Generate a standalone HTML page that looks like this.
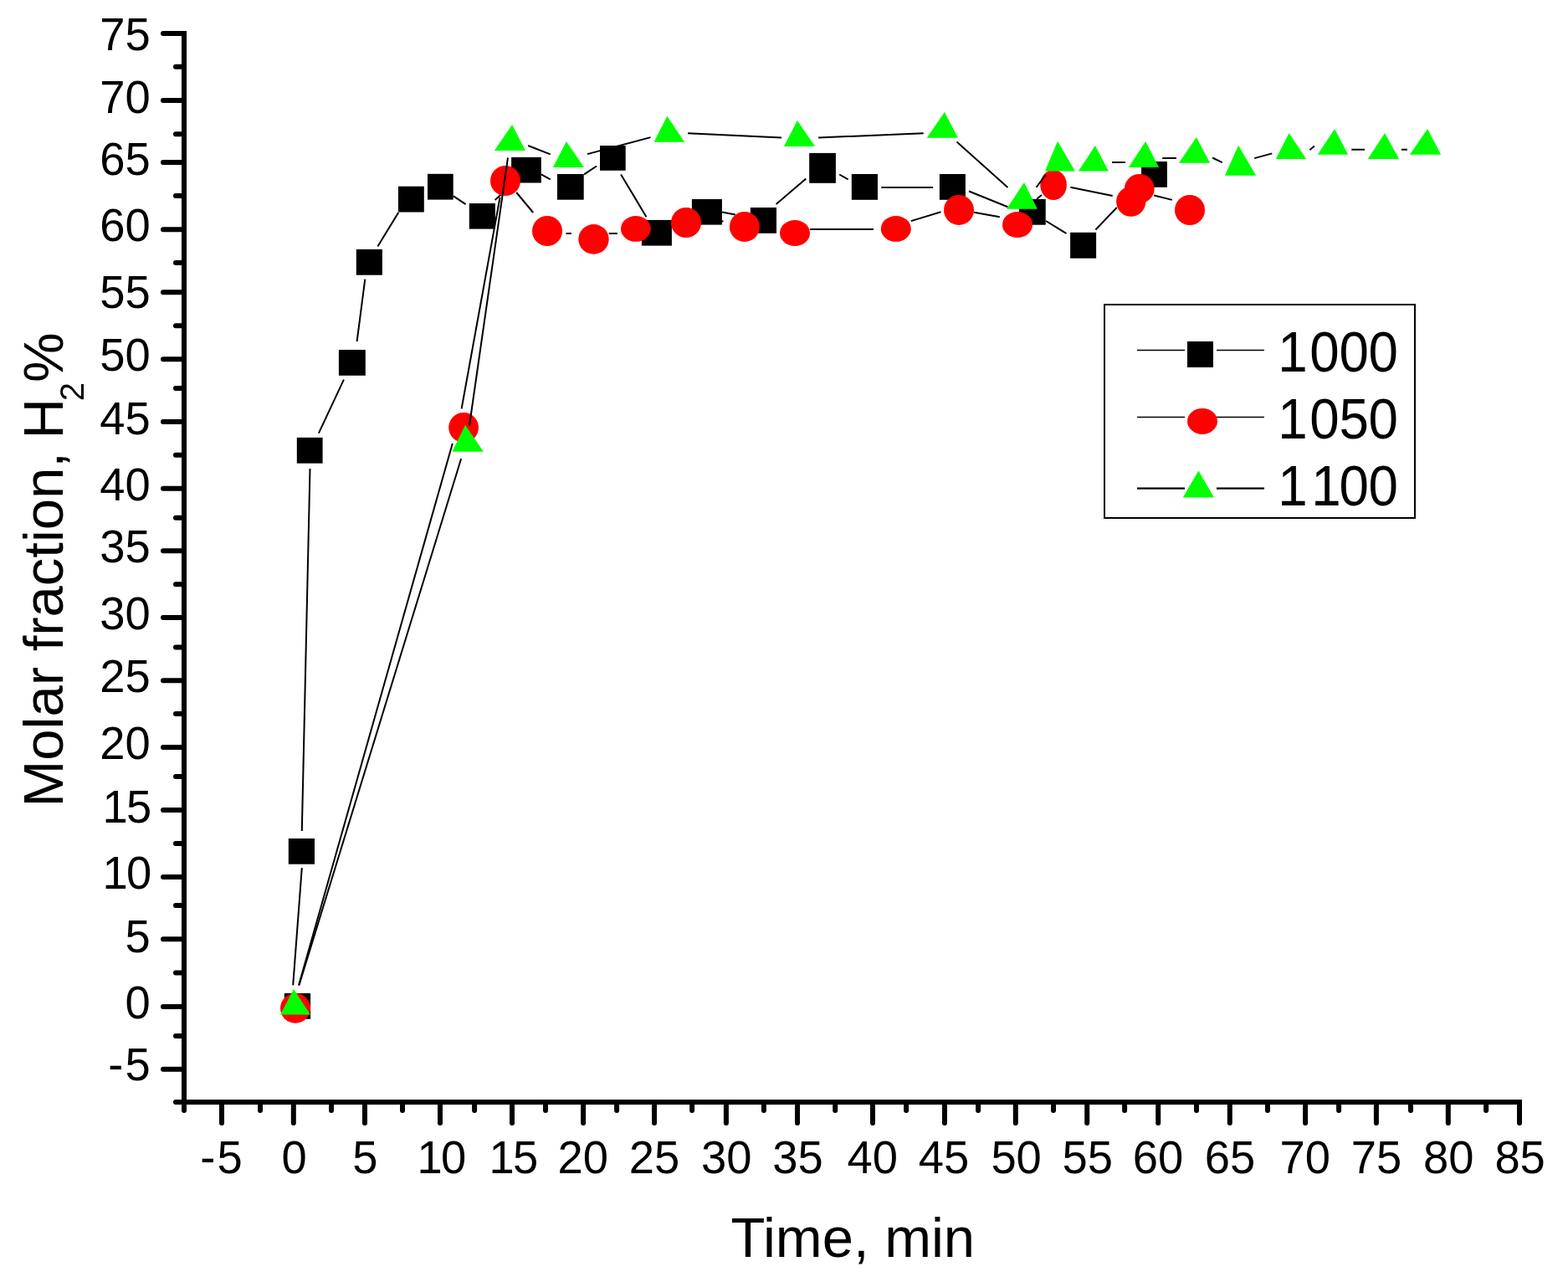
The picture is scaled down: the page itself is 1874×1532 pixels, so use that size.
<!DOCTYPE html>
<html><head><meta charset="utf-8"><title>Molar fraction H2 vs time</title>
<style>html,body{margin:0;padding:0;background:#fff;}body{width:1874px;height:1532px;overflow:hidden;}svg{display:block;}text{font-family:"Liberation Sans", Arial, sans-serif;fill:#000;}</style></head><body>
<svg width="1874" height="1532" viewBox="0 0 1874 1532">
<rect x="0" y="0" width="1874" height="1532" fill="#fff"/>
<path d="M350.2 1177.4L360.8 1037.1M360.8 993L370.5 560M380.9 517.7L410.9 453.7M426.6 408L436.3 333.6M451.4 294.5L476.2 254M542 234.4L556.6 244.1M591.6 238.9L613.7 219.3M646.8 208.4L657.7 214.4M698.1 208.4L713 198.5M742.1 208.4L772.5 259.3M805.7 269.6L824.1 261.9M863.1 253.5L878.8 256.5M927.6 244L963.3 213.6M1003.2 208.5L1013.6 214.4M1053.3 224L1114.9 224M1158 228.5L1204.4 247.3M1250 264L1274.5 279M1309.4 274.5L1334.8 248" stroke="#000" stroke-width="2" fill="none"/>
<rect x="339.9" y="1186.9" width="31.2" height="30.8" fill="#000"/>
<rect x="344.8" y="1002" width="31.2" height="30.7" fill="#000"/>
<rect x="354.8" y="522.9" width="30.8" height="30.8" fill="#000"/>
<rect x="404.9" y="418" width="31.9" height="30.8" fill="#000"/>
<rect x="425.8" y="297.9" width="31.1" height="30.8" fill="#000"/>
<rect x="476" y="222.7" width="30.8" height="30.8" fill="#000"/>
<rect x="511" y="207.8" width="30.7" height="30.8" fill="#000"/>
<rect x="560.8" y="243" width="31.1" height="30.6" fill="#000"/>
<rect x="611.1" y="187.9" width="35.7" height="30.6" fill="#000"/>
<rect x="666" y="208" width="31.7" height="30.7" fill="#000"/>
<rect x="717" y="174" width="30.7" height="29.8" fill="#000"/>
<rect x="766.9" y="262.9" width="36" height="30.7" fill="#000"/>
<rect x="826.9" y="238" width="36" height="30.6" fill="#000"/>
<rect x="896.9" y="248" width="31.1" height="30.8" fill="#000"/>
<rect x="967.2" y="182.9" width="31.7" height="35.9" fill="#000"/>
<rect x="1017.8" y="208" width="31.2" height="30.8" fill="#000"/>
<rect x="1122.9" y="208" width="31" height="30.8" fill="#000"/>
<rect x="1218" y="238" width="31.7" height="30.7" fill="#000"/>
<rect x="1279.1" y="277.8" width="31" height="30.9" fill="#000"/>
<rect x="1364.1" y="193" width="30.8" height="30.8" fill="#000"/>
<path d="M357 1177.4L540.8 530M551.6 488.5L597.5 236M617.2 230L637.2 254M676.5 278.9L682.9 278.9M727.7 278.9L737.8 278.9M782.3 267.1L797.6 265.9M840 264L864.5 264.5M912.3 270.8L927.6 272.1M968 274L1044 274M1088.8 264.1L1124.5 253.3M1164 253.7L1194.8 259.3M1239 237.7L1245 233M1279.3 223.7L1329.7 234.1M1379.2 233.5L1400.8 238.9" stroke="#000" stroke-width="2" fill="none"/>
<ellipse cx="353" cy="1204.8" rx="18" ry="17.9" fill="#f00"/>
<ellipse cx="554.1" cy="510.8" rx="17.9" ry="17.9" fill="#f00"/>
<ellipse cx="604" cy="216" rx="18" ry="18" fill="#f00"/>
<ellipse cx="654" cy="276" rx="18" ry="18" fill="#f00"/>
<ellipse cx="709.5" cy="285.9" rx="18.2" ry="17.8" fill="#f00"/>
<ellipse cx="759.9" cy="273.4" rx="17.9" ry="15.4" fill="#f00"/>
<ellipse cx="820" cy="266" rx="18" ry="18" fill="#f00"/>
<ellipse cx="889.9" cy="270.9" rx="18" ry="18" fill="#f00"/>
<ellipse cx="950" cy="278.5" rx="18" ry="15.5" fill="#f00"/>
<ellipse cx="1070.8" cy="273.4" rx="18" ry="15.4" fill="#f00"/>
<ellipse cx="1146" cy="250.9" rx="18" ry="18" fill="#f00"/>
<ellipse cx="1216" cy="268.5" rx="18" ry="15.5" fill="#f00"/>
<ellipse cx="1259.1" cy="221" rx="15.8" ry="18" fill="#f00"/>
<ellipse cx="1351.7" cy="240.9" rx="17.6" ry="17.9" fill="#f00"/>
<ellipse cx="1361.8" cy="225.5" rx="17.9" ry="17.5" fill="#f00"/>
<ellipse cx="1422" cy="251" rx="18" ry="18" fill="#f00"/>
<path d="M357.4 1177.4L551.1 548.3M561 508.5L607 188.5M631.1 174L657.7 184.4M702 184.1L777.6 164.1M822.1 159.3L934 164.5M978.1 164.5L1103.7 159.2M1143.5 169.6L1204.4 224M1238.5 224L1249.7 208.8M1329 194L1345 194M1389.2 188.9L1405.9 188.9M1449.1 188.5L1460.7 194.2M1499.2 189.1L1520.3 183.4M1565.3 179.3L1570.9 174.4M1615.3 178.8L1631 178.8M1674.9 178.8L1681.9 178.8" stroke="#000" stroke-width="2" fill="none"/>
<polygon points="351,1182 371,1212.5 335,1212.5" fill="#0f0"/>
<polygon points="556,507.9 577.9,539.8 540.4,539.8" fill="#0f0"/>
<polygon points="612.1,148.9 627.9,179.9 590.8,179.9" fill="#0f0"/>
<polygon points="676.9,168.9 698,200 660.9,200" fill="#0f0"/>
<polygon points="797.3,138.8 818.1,169.7 781.6,169.7" fill="#0f0"/>
<polygon points="952.9,144 974.1,174.9 936.9,174.9" fill="#0f0"/>
<polygon points="1128.9,133.9 1144.9,164.8 1107.7,164.8" fill="#0f0"/>
<polygon points="1224,218 1239.8,249.7 1203,249.7" fill="#0f0"/>
<polygon points="1264,168.8 1284.9,204.5 1248.9,204.5" fill="#0f0"/>
<polygon points="1308.9,173.9 1324.9,204.5 1288.9,204.5" fill="#0f0"/>
<polygon points="1369.1,169 1385.1,199.9 1348.8,199.9" fill="#0f0"/>
<polygon points="1429.9,163.9 1446.1,194.8 1408.9,194.8" fill="#0f0"/>
<polygon points="1480.1,173.8 1501.1,209.7 1463.9,209.7" fill="#0f0"/>
<polygon points="1540.6,158.9 1561.2,189.9 1524.8,189.9" fill="#0f0"/>
<polygon points="1595.1,153.9 1611.1,184.8 1574.8,184.8" fill="#0f0"/>
<polygon points="1655.1,158.9 1672.1,189.9 1634.7,189.9" fill="#0f0"/>
<polygon points="1706.1,153.9 1722.1,184.8 1684.9,184.8" fill="#0f0"/>
<g fill="#000">
<rect x="217" y="37" width="6" height="1283"/>
<rect x="217" y="1314" width="1602" height="6"/>
</g>
<path d="M195 40H220M210 79.8H220M195 119.9H220M210 160.2H220M195 194H220M210 234H220M195 274.2H220M210 314.1H220M195 349.2H220M210 389.2H220M195 429.2H220M210 463.9H220M195 503.9H220M210 543.7H220M195 583.7H220M210 618.8H220M195 658.3H220M210 698.2H220M195 738.1H220M210 773.4H220M195 813.3H220M210 853.1H220M195 893.1H220M210 927.9H220M195 968H220M210 1007.9H220M195 1048H220M210 1082.1H220M195 1122.3H220M210 1162.6H220M195 1203H220M210 1238H220M195 1277.8H220M210 1317H220M220 1317V1327M265 1317V1342M311 1317V1327M350.8 1317V1342M396 1317V1327M436 1317V1342M481 1317V1327M526 1317V1342M567.1 1317V1327M612 1317V1342M652 1317V1327M697.1 1317V1342M737.1 1317V1327M782 1317V1342M827.1 1317V1327M867.9 1317V1342M912.9 1317V1327M953 1317V1342M998.2 1317V1327M1043 1317V1342M1083.1 1317V1327M1129 1317V1342M1169.1 1317V1327M1213.8 1317V1342M1259 1317V1327M1299.2 1317V1342M1344.1 1317V1327M1384.2 1317V1342M1430 1317V1327M1469.8 1317V1342M1515 1317V1327M1560.1 1317V1342M1600.1 1317V1327M1644.9 1317V1342M1686 1317V1327M1730.8 1317V1342M1776.1 1317V1327M1816 1317V1342" stroke="#000" stroke-width="6" stroke-linecap="round" fill="none"/>
<g font-size="56.3" text-anchor="end">
<text transform="translate(179.7 59.7) scale(0.965 1)">75</text>
<text transform="translate(179.7 134.5) scale(0.965 1)">70</text>
<text transform="translate(179.7 208.8) scale(0.965 1)">65</text>
<text transform="translate(179.7 288.2) scale(0.965 1)">60</text>
<text transform="translate(179.7 368.3) scale(0.965 1)">55</text>
<text transform="translate(179.7 443.3) scale(0.965 1)">50</text>
<text transform="translate(179.7 518.7) scale(0.965 1)">45</text>
<text transform="translate(179.7 598.4) scale(0.965 1)">40</text>
<text transform="translate(179.7 672.3) scale(0.965 1)">35</text>
<text transform="translate(179.7 752.4) scale(0.965 1)">30</text>
<text transform="translate(179.7 827.3) scale(0.965 1)">25</text>
<text transform="translate(179.7 907.3) scale(0.965 1)">20</text>
<text text-anchor="start" transform="translate(0 982.7) scale(0.965 1)" x="126.9 156.4">15</text>
<text text-anchor="start" transform="translate(0 1062.4) scale(0.965 1)" x="126.9 156.5">10</text>
<text transform="translate(179.7 1137.5) scale(0.965 1)">5</text>
<text transform="translate(179.7 1217) scale(0.965 1)">0</text>
<text transform="translate(179.7 1291.4) scale(0.965 1)">-<tspan dx="2.3">5</tspan></text>
</g>
<g font-size="56.3" text-anchor="middle">
<text transform="translate(264.4 1401.5) scale(0.965 1)">-<tspan dx="2.3">5</tspan></text>
<text transform="translate(351.5 1401.5) scale(0.965 1)">0</text>
<text transform="translate(436.3 1401.5) scale(0.965 1)">5</text>
<text text-anchor="start" transform="translate(0 1401.5) scale(0.965 1)" x="516.6 546">10</text>
<text text-anchor="start" transform="translate(0 1401.5) scale(0.965 1)" x="605.8 635.2">15</text>
<text transform="translate(696.7 1401.5) scale(0.965 1)">20</text>
<text transform="translate(782 1401.5) scale(0.965 1)">25</text>
<text transform="translate(868.3 1401.5) scale(0.965 1)">30</text>
<text transform="translate(953.5 1401.5) scale(0.965 1)">35</text>
<text transform="translate(1042.7 1401.5) scale(0.965 1)">40</text>
<text transform="translate(1127.9 1401.5) scale(0.965 1)">45</text>
<text transform="translate(1214.6 1401.5) scale(0.965 1)">50</text>
<text transform="translate(1299.7 1401.5) scale(0.965 1)">55</text>
<text transform="translate(1383.9 1401.5) scale(0.965 1)">60</text>
<text transform="translate(1470 1401.5) scale(0.965 1)">65</text>
<text transform="translate(1559.8 1401.5) scale(0.965 1)">70</text>
<text transform="translate(1644.9 1401.5) scale(0.965 1)">75</text>
<text transform="translate(1731.3 1401.5) scale(0.965 1)">80</text>
<text transform="translate(1816.6 1401.5) scale(0.965 1)">85</text>
</g>
<text x="1019.3" y="1502" font-size="67" text-anchor="middle">Time, min</text>
<text transform="translate(75 964.5) rotate(-90)" font-size="67">Molar fraction, <tspan dx="-3">H</tspan><tspan font-size="40" dx="-3.3" dy="25">2</tspan><tspan dy="-25">%</tspan></text>
<rect x="1320" y="364" width="371" height="255" fill="none" stroke="#000" stroke-width="2"/>
<path d="M1359 418.5H1416M1454 418.5H1511M1359 498.5H1416M1454 498.5H1511" stroke="#000" stroke-width="1.3"/>
<path d="M1359 583.6H1416M1454 583.6H1511" stroke="#000" stroke-width="2.2"/>
<rect x="1419" y="408" width="31" height="31" fill="#000"/>
<ellipse cx="1437" cy="503.4" rx="18" ry="15.5" fill="#f00"/>
<polygon points="1432.4,562.6 1451,594.6 1413.8,594.6" fill="#0f0"/>
<g font-size="68.7">
<text text-anchor="start" transform="translate(0 444.4) scale(0.927 1)" x="1647.6 1688.6 1726.6 1764.4">1000</text>
<text text-anchor="start" transform="translate(0 524.4) scale(0.927 1)" x="1647.6 1688.6 1726.5 1764.4">1050</text>
<text text-anchor="start" transform="translate(0 604.3) scale(0.927 1)" x="1647.6 1690.8 1726.6 1764.4">1100</text>
</g>
</svg></body></html>
